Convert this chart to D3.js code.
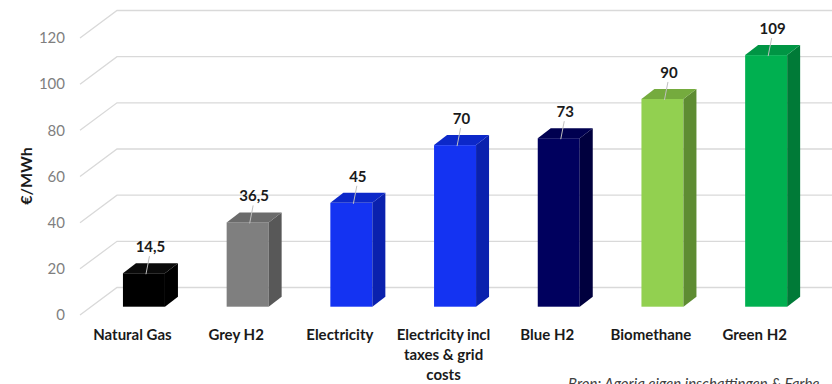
<!DOCTYPE html>
<html>
<head>
<meta charset="utf-8">
<script src="https://cdn.jsdelivr.net/npm/d3@7"></script>
<style>
  html, body { margin: 0; padding: 0; background: #fff; overflow: hidden; }
  svg { display: block; font-family: Lato, "Open Sans", sans-serif; }
</style>
</head>
<body>
<svg id="chart" width="832" height="384"></svg>
<script>
const categories = ["Natural Gas", "Grey H2", "Electricity", "Electricity incl taxes & grid costs", "Blue H2", "Biomethane", "Green H2"]
const values = [14.5, 36.5, 45, 70, 73, 90, 109]
const valueLabels = ["14,5", "36,5", "45", "70", "73", "90", "109"]
const yTicks = [0, 20, 40, 60, 80, 100, 120]
const frontColors = ["#000000", "#7f7f7f", "#1433f2", "#1433f2", "#00005e", "#92d050", "#00b050"]
const topColors = ["#0a0a0a", "#6b6b6b", "#0c28c9", "#0c28c9", "#000050", "#75ab3e", "#009544"]
const sideColors = ["#000000", "#585858", "#0a21ae", "#0a21ae", "#00003e", "#5e8c32", "#007a37"]

const width = 832, height = 384
const svg = d3.select("#chart")

// ## 3D layout (floor depth, bar offset, bar depth) ##
const floor = { x0: 80, dx: 37, dy: -27.5 }
const barOff = { dx: 11.5, dy: -8.3 }
const barDepth = { dx: 13, dy: -10 }

const y = d3.scaleLinear().domain([0, 120]).range([315, 38])
const x = d3.scaleBand()
  .domain(categories)
  .range([80.6, 806.5])
  .paddingInner(0.595)
  .paddingOuter(0.2975)

// gridlines with the diagonal side wall piece
svg.append("g")
  .selectAll("path")
  .data(yTicks)
  .join("path")
  .attr("fill", "none")
  .attr("stroke", "#d9d9d9")
  .attr("stroke-width", 1.3)
  .attr("d", (t) => {
    let yy = y(t)
    return `M${floor.x0},${yy} L${floor.x0 + floor.dx},${yy + floor.dy} L${width},${yy + floor.dy}`
  })

// tick labels
svg.append("g")
  .selectAll("text")
  .data(yTicks)
  .join("text")
  .attr("x", 65)
  .attr("y", (t) => y(t))
  .attr("dy", "0.35em")
  .attr("text-anchor", "end")
  .attr("font-size", 15)
  .attr("fill", "#7f7f7f")
  .text((t) => t)

svg.append("text")
  .attr("transform", "translate(32,176) rotate(-90)")
  .attr("text-anchor", "middle")
  .attr("font-size", 16)
  .attr("font-weight", "bold")
  .attr("fill", "#1a1a1a")
  .text("€/MWh")

// ## BARS ##
const bars = svg.append("g")
  .selectAll("g")
  .data(categories)
  .join("g")

const geom = (c, i) => {
  let x0 = x(c) + barOff.dx
  let w = x.bandwidth()
  let yTop = y(values[i]) + barOff.dy
  let yBase = y(0) + barOff.dy
  return { x0, w, yTop, yBase }
}

bars.append("rect")
  .attr("x", (c, i) => geom(c, i).x0)
  .attr("y", (c, i) => geom(c, i).yTop)
  .attr("width", x.bandwidth())
  .attr("height", (c, i) => geom(c, i).yBase - geom(c, i).yTop)
  .attr("fill", (c, i) => frontColors[i])

bars.append("path")
  .attr("fill", (c, i) => sideColors[i])
  .attr("d", (c, i) => {
    let g = geom(c, i)
    let xr = g.x0 + g.w
    return `M${xr},${g.yTop} L${xr + barDepth.dx},${g.yTop + barDepth.dy} L${xr + barDepth.dx},${g.yBase + barDepth.dy} L${xr},${g.yBase} Z`
  })

bars.append("path")
  .attr("fill", (c, i) => topColors[i])
  .attr("d", (c, i) => {
    let g = geom(c, i)
    return `M${g.x0},${g.yTop} L${g.x0 + barDepth.dx},${g.yTop + barDepth.dy} L${g.x0 + g.w + barDepth.dx},${g.yTop + barDepth.dy} L${g.x0 + g.w},${g.yTop} Z`
  })

// leader lines + value labels
bars.append("line")
  .attr("stroke", "#bfbfbf")
  .attr("stroke-width", 1)
  .attr("x1", (c, i) => geom(c, i).x0 + x.bandwidth() / 2 + barDepth.dx / 2 - 1)
  .attr("y1", (c, i) => geom(c, i).yTop - 17)
  .attr("x2", (c, i) => geom(c, i).x0 + x.bandwidth() / 2 + 2)
  .attr("y2", (c, i) => geom(c, i).yTop + 1)

bars.append("text")
  .attr("x", (c, i) => geom(c, i).x0 + x.bandwidth() / 2 + barDepth.dx / 2)
  .attr("y", (c, i) => geom(c, i).yTop - 21)
  .attr("text-anchor", "middle")
  .attr("font-size", 15)
  .attr("font-weight", "bold")
  .attr("fill", "#1a1a1a")
  .text((c, i) => valueLabels[i])

// category labels, wrapped
const catLabels = svg.append("g")
  .selectAll("text")
  .data(categories)
  .join("text")
  .attr("x", (c) => x(c) + x.bandwidth() / 2)
  .attr("y", 340)
  .attr("text-anchor", "middle")
  .attr("font-size", 15)
  .attr("font-weight", "bold")
  .attr("fill", "#1a1a1a")

catLabels.each(function (c) {
  let el = d3.select(this)
  let cx = el.attr("x")
  let words = c.split(" ")
  let lines = []
  let line = []
  let probe = el.append("tspan")
  words.forEach((wd) => {
    line.push(wd)
    probe.text(line.join(" "))
    if (probe.node().getComputedTextLength() > 104 && line.length > 1) {
      line.pop()
      lines.push(line.join(" "))
      line = [wd]
    }
  })
  lines.push(line.join(" "))
  probe.remove()
  lines.forEach((l, k) => {
    el.append("tspan").attr("x", cx).attr("dy", k === 0 ? 0 : 20).text(l)
  })
})

// source note, cut by the bottom edge as in the original
svg.append("text")
  .attr("x", 568)
  .attr("y", 389)
  .attr("font-size", 15)
  .attr("font-style", "italic")
  .attr("fill", "#404040")
  .text("Bron: Agoria eigen inschattingen & Farbe")
</script>
</body>
</html>
